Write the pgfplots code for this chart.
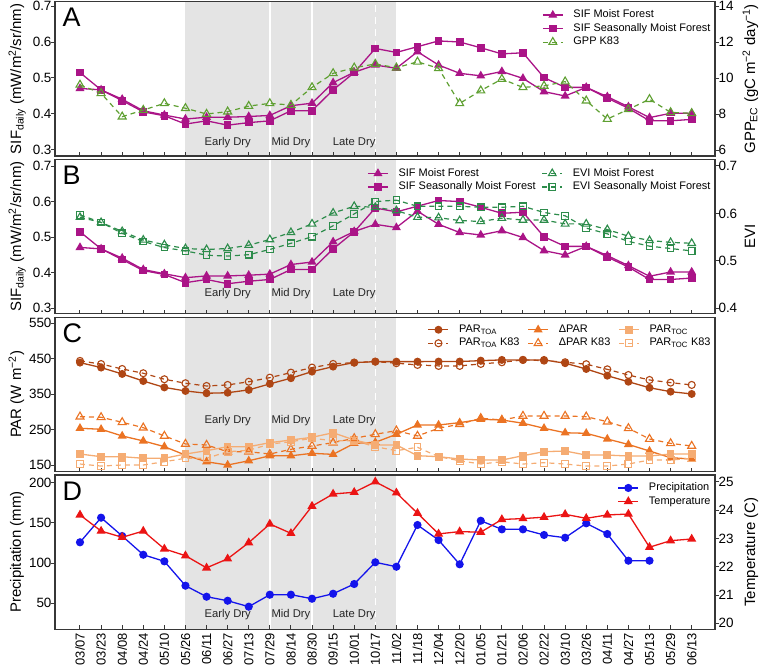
\documentclass[border=0pt]{standalone}
\usepackage{pgfplots}
\pgfplotsset{compat=1.18}
\usepackage{pgfplotstable}
\usepackage{fontspec}
\setmainfont{Liberation Sans}

\definecolor{sifc}{RGB}{170,20,135}
\definecolor{gppc}{RGB}{95,160,50}
\definecolor{evic}{RGB}{45,140,75}
\definecolor{toac}{RGB}{175,70,20}
\definecolor{dparc}{RGB}{235,115,35}
\definecolor{tocc}{RGB}{245,172,115}
\definecolor{prc}{RGB}{20,20,235}
\definecolor{tc}{RGB}{235,20,20}
\definecolor{shadec}{RGB}{228,228,228}
\definecolor{axc}{RGB}{55,55,55}

\newcommand{\tickfont}{\fontsize{13.5}{15}\selectfont}
\newcommand{\xtickfont}{\fontsize{13}{15}\selectfont}
\newcommand{\labfont}{\fontsize{15}{17}\selectfont}
\newcommand{\legfont}{\fontsize{11}{13}\selectfont}
\newcommand{\phasefont}{\fontsize{11.3}{13}\selectfont}
\newcommand{\letterfont}{\fontsize{27}{30}\selectfont}

\pgfplotstableread{
i sm ss gpp em es
0 0.471 0.515 9.62 0.592 0.597
1 0.467 0.467 9.15 0.581 0.581
2 0.441 0.437 7.85 0.562 0.558
3 0.409 0.406 8.22 0.544 0.541
4 0.397 0.395 8.59 0.534 0.528
5 0.386 0.372 8.32 0.526 0.521
6 0.391 0.381 8.00 0.524 0.512
7 0.391 0.369 8.13 0.526 0.510
8 0.393 0.376 8.44 0.533 0.513
9 0.396 0.381 8.59 0.545 0.524
10 0.423 0.409 8.50 0.560 0.537
11 0.430 0.409 9.48 0.578 0.551
12 0.487 0.467 10.26 0.601 0.574
13 0.516 0.515 10.57 0.615 0.599
14 0.536 0.582 10.78 0.613 0.625
15 0.527 0.571 10.57 0.606 0.628
16 0.573 0.587 10.90 0.592 0.615
17 0.536 0.603 10.54 0.591 0.615
18 0.513 0.600 8.59 0.585 0.615
19 0.506 0.584 9.30 0.583 0.613
20 0.518 0.567 9.94 0.590 0.613
21 0.499 0.570 9.48 0.586 0.615
22 0.462 0.501 9.56 0.586 0.602
23 0.450 0.474 9.80 0.578 0.595
24 0.474 0.474 8.74 0.578 0.569
25 0.448 0.444 7.72 0.566 0.557
26 0.420 0.416 8.26 0.552 0.541
27 0.390 0.381 8.82 0.543 0.531
28 0.402 0.381 8.09 0.539 0.526
29 0.402 0.385 8.04 0.537 0.521
}\tabAB

\pgfplotstableread{
i toa toak dp dpk toc tock
0 439 443.8 253.7 286.4 181 152.8
1 425 435 250.8 284.7 173.5 147
2 407 421 232 270.6 173.5 150
3 387 409 218 255.4 169 150
4 369 392 201.8 232 169 159.3
5 359 380.8 178 209.3 181 169
6 352.5 373 159 206.5 190.4 169
7 354 376 150 187.6 201.7 187.6
8 362 385 162 187.6 201.7 191.5
9 379 396.6 176 181 213 209
10 395 410.7 176 194.3 220.6 215.8
11 413.6 425 183 203.7 228.2 225.4
12 427.7 435.3 180 213 241 218.6
13 439 439 211 225.4 220.6 218.6
14 441.8 441.8 214 236.7 206.5 201.7
15 441.8 437.3 236.7 247 206.5 190.4
16 441.8 432.5 263 232 176.3 200
17 442 429.7 263 253.7 173.5 173.5
18 442 429.7 269.5 265 167 162
19 444.6 435.3 279 282 164 152.8
20 446.6 440 277 277 164 159.3
21 446.6 446.6 268 288.4 176.3 152.8
22 446.6 444.6 253.7 288.4 187.6 156.5
23 437.3 440 241 288.4 189.5 152.8
24 421 434.5 239.5 286.4 178 147
25 402 420 223.4 272.3 178 147
26 385 404 208 253.7 175.4 152.8
27 368 390 189.5 223.4 175.4 164
28 357 382.5 170.6 211 181 164
29 350.6 376 167 203.7 181 169
}\tabC

\pgfplotstableread{
i pr t
0 125.9 23.83
1 156.5 23.26
2 133.7 23.04
3 110.4 23.26
4 102.2 22.63
5 71.9 22.39
6 58.2 21.96
7 53.2 22.28
8 45.8 22.85
9 60.7 23.51
10 60.7 23.18
11 55.7 24.14
12 61.9 24.57
13 74.0 24.63
14 101.0 25.00
15 95.5 24.61
16 147.4 23.89
17 128.7 23.16
18 98.5 23.24
19 152.7 23.22
20 142.0 23.67
21 142.0 23.70
22 135.0 23.75
23 131.6 23.85
24 149.5 23.71
25 136.2 23.83
26 103.0 23.86
27 103.0 22.69
28 nan 22.92
29 nan 22.98
}\tabD

\pgfplotsset{
  legend image code/.code={\draw[mark repeat=2,mark phase=2,#1] plot coordinates {(0bp,0bp) (10bp,0bp) (20bp,0bp)};},
  panel/.style={
    scale only axis, width=660bp, height=154.3bp, anchor=south west,
    xmin=-1.185, xmax=30.105,
    xtick={0,...,29}, xticklabels={},
    xtick pos=left, ytick pos=left,
    tick align=inside, major tick length=4bp,
    tick style={axc, line width=1bp},
    y tick style={xshift=-4bp},
    axis line style={axc, line width=1.2bp},
    axis on top,
    tick label style={font=\tickfont, text=black},
    /pgf/number format/assume math mode=true,
    every axis y label/.style={at={(rel axis cs:0,0.5)}, xshift=-34bp, rotate=90, anchor=base, font=\labfont},
    legend cell align=left,
    legend style={draw=none, fill=none, font=\legfont, inner sep=0pt,
      at={(rel axis cs:1,1)}, anchor=north east,
      nodes={inner sep=1bp, text height=8bp, text depth=2.5bp}, row sep=1bp,
      /tikz/every odd column/.style={column sep=9bp}},
  },
  panelR/.style={
    scale only axis, width=660bp, height=154.3bp, anchor=south west,
    xmin=-1.185, xmax=30.105,
    axis x line=none, axis y line*=right, ytick pos=right,
    tick align=inside, major tick length=4bp,
    tick style={axc, line width=1bp},
    y tick style={xshift=4bp},
    axis line style={axc, line width=1.2bp},
    tick label style={font=\tickfont, text=black},
    /pgf/number format/assume math mode=true,
    every axis y label/.style={at={(rel axis cs:1,0.5)}, xshift=40bp, rotate=90, anchor=base, font=\labfont},
  },
  sifM/.style={sifc, line width=1.3bp, mark=triangle*, mark size=3.9bp, mark options={solid, fill=sifc}},
  sifS/.style={sifc, line width=1.3bp, mark=square*, mark size=3.2bp, mark options={solid, fill=sifc}},
  gppK/.style={gppc, line width=1.2bp, dash pattern=on 5bp off 4bp, mark=triangle, mark size=4.6bp, mark options={solid, line width=1.1bp}},
  eviM/.style={evic, line width=1.2bp, dash pattern=on 5bp off 4bp, mark=triangle, mark size=4.4bp, mark options={solid, line width=1.1bp}},
  eviS/.style={evic, line width=1.2bp, dash pattern=on 5bp off 4bp, mark=square, mark size=3.3bp, mark options={solid, line width=1.1bp}},
  toaS/.style={toac, line width=1.3bp, mark=*, mark size=3.3bp, mark options={solid, fill=toac}},
  toaK/.style={toac, line width=1.2bp, dash pattern=on 5bp off 4bp, mark=o, mark size=3.5bp, mark options={solid, line width=1.1bp}},
  dpS/.style={dparc, line width=1.3bp, mark=triangle*, mark size=3.9bp, mark options={solid, fill=dparc}},
  dpK/.style={dparc, line width=1.2bp, dash pattern=on 5bp off 4bp, mark=triangle, mark size=4.6bp, mark options={solid, line width=1.1bp}},
  tocS/.style={tocc, line width=1.3bp, mark=square*, mark size=3.2bp, mark options={solid, fill=tocc}},
  tocK/.style={tocc, line width=1.2bp, dash pattern=on 5bp off 4bp, mark=square, mark size=3.4bp, mark options={solid, line width=1.1bp}},
  prS/.style={prc, line width=1.3bp, mark=*, mark size=3.4bp, mark options={solid, fill=prc}},
  tS/.style={tc, line width=1.3bp, mark=triangle*, mark size=4bp, mark options={solid, fill=tc}},
}

\newcommand{\dryshade}[2]{%
  \fill[shadec] (axis cs:5,#1) rectangle (axis cs:15,#2);
  \draw[white, line width=1.6bp] (axis cs:9,#1) -- (axis cs:9,#2);
  \draw[white, line width=1.6bp] (axis cs:11,#1) -- (axis cs:11,#2);
  \draw[white, line width=1.6bp, dash pattern=on 7bp off 5bp] (axis cs:14,#1) -- (axis cs:14,#2);
}
\newcommand{\phases}[1]{%
  \node[font=\phasefont, text=black!85] at (axis cs:7,#1) {Early Dry};
  \node[font=\phasefont, text=black!85] at (axis cs:10,#1) {Mid Dry};
  \node[font=\phasefont, text=black!85] at (axis cs:13,#1) {Late Dry};
}
\newcommand{\letter}[1]{%
  \node[anchor=north west, inner sep=0pt, font=\letterfont, xshift=7.5bp, yshift=-6.5bp] at (rel axis cs:0,1) {#1};
}

\begin{document}
\begin{tikzpicture}
\useasboundingbox (0,0) rectangle (762bp,668bp);

% ---------------- Panel A ----------------
\begin{axis}[panel, at={(55bp,512bp)},
  ymin=0.2833, ymax=0.712,
  ytick={0.3,0.4,0.5,0.6,0.7}, yticklabels={0.3,0.4,0.5,0.6,0.7},
  ylabel={SIF\textsubscript{daily} (mW/m\textsuperscript{2}/sr/nm)},
  legend columns=1,
  legend style={xshift=-3.3bp, yshift=-7bp}]
\dryshade{0.2833}{0.712}
\phases{0.321}
\letter{A}
\addplot[sifM] table[x=i, y=sm]{\tabAB};
\addlegendentry{SIF Moist Forest}
\addplot[sifS] table[x=i, y=ss]{\tabAB};
\addlegendentry{SIF Seasonally Moist Forest}
\addlegendimage{gppK}
\addlegendentry{GPP K83}
\end{axis}
\begin{axis}[panelR, at={(55bp,512bp)},
  ymin=5.667, ymax=14.24,
  ytick={6,8,10,12,14}, yticklabels={6,8,10,12,14},
  ylabel={GPP\textsubscript{EC} (gC m\textsuperscript{−2} day\textsuperscript{−1})}]
\addplot[gppK] table[x=i, y=gpp]{\tabAB};
\end{axis}

% ---------------- Panel B ----------------
\begin{axis}[panel, at={(55bp,354.2bp)},
  ymin=0.2845, ymax=0.7183,
  ytick={0.3,0.4,0.5,0.6,0.7}, yticklabels={0.3,0.4,0.5,0.6,0.7},
  ylabel={SIF\textsubscript{daily} (mW/m\textsuperscript{2}/sr/nm)},
  legend columns=2,
  legend style={xshift=-3.3bp, yshift=-7.5bp, /tikz/every even column/.style={column sep=5bp}}]
\dryshade{0.2845}{0.7183}
\phases{0.342}
\letter{B}
\addplot[sifM] table[x=i, y=sm]{\tabAB};
\addlegendentry{SIF Moist Forest}
\addlegendimage{eviM}
\addlegendentry{EVI Moist Forest}
\addplot[sifS] table[x=i, y=ss]{\tabAB};
\addlegendentry{SIF Seasonally Moist Forest}
\addlegendimage{eviS}
\addlegendentry{EVI Seasonally Moist Forest}
\end{axis}
\begin{axis}[panelR, at={(55bp,354.2bp)},
  ymin=0.3884, ymax=0.7137,
  ytick={0.4,0.5,0.6,0.7}, yticklabels={0.4,0.5,0.6,0.7},
  ylabel={EVI}]
\addplot[eviM] table[x=i, y=em]{\tabAB};
\addplot[eviS] table[x=i, y=es]{\tabAB};
\end{axis}

% ---------------- Panel C ----------------
\begin{axis}[panel, at={(55bp,196.4bp)},
  ymin=131.4, ymax=566.9,
  ytick={150,250,350,450,550}, yticklabels={150,250,350,450,550},
  ylabel={PAR (W m\textsuperscript{−2})},
  legend columns=3,
  legend style={xshift=-3.3bp, yshift=-6bp, /tikz/every even column/.style={column sep=7bp}}]
\dryshade{131.4}{566.9}
\phases{275}
\letter{C}
\addplot[toaS] table[x=i, y=toa]{\tabC};
\addlegendentry{PAR\textsubscript{TOA}}
\addplot[dpS] table[x=i, y=dp]{\tabC};
\addlegendentry{ΔPAR}
\addplot[tocS] table[x=i, y=toc]{\tabC};
\addlegendentry{PAR\textsubscript{TOC}}
\addplot[toaK] table[x=i, y=toak]{\tabC};
\addlegendentry{PAR\textsubscript{TOA} K83}
\addplot[dpK] table[x=i, y=dpk]{\tabC};
\addlegendentry{ΔPAR K83}
\addplot[tocK] table[x=i, y=tock]{\tabC};
\addlegendentry{PAR\textsubscript{TOC} K83}
\end{axis}

% ---------------- Panel D ----------------
\begin{axis}[panel, at={(55bp,38.7bp)},
  ymin=17.66, ymax=209.6,
  ytick={50,100,150,200}, yticklabels={50,100,150,200},
  ylabel={Precipitation (mm)},
  xticklabels={03/07,03/23,04/08,04/24,05/10,05/26,06/11,06/27,07/13,07/29,08/14,08/30,09/15,10/01,10/17,11/02,11/18,12/04,12/20,01/05,01/21,02/06,02/22,03/10,03/26,04/11,04/27,05/13,05/29,06/13},
  xticklabel style={rotate=90, anchor=east, font=\xtickfont},
  legend columns=1,
  legend style={xshift=-3.3bp, yshift=-6.5bp}]
\dryshade{17.66}{209.6}
\phases{35.5}
\letter{D}
\addplot[prS] table[x=i, y=pr]{\tabD};
\addlegendentry{Precipitation}
\addlegendimage{tS}
\addlegendentry{Temperature}
\end{axis}
\begin{axis}[panelR, at={(55bp,38.7bp)},
  ymin=19.79, ymax=25.24,
  ytick={20,21,22,23,24,25}, yticklabels={20,21,22,23,24,25},
  ylabel={Temperature (C)}]
\addplot[tS] table[x=i, y=t]{\tabD};
\end{axis}

\end{tikzpicture}
\end{document}
